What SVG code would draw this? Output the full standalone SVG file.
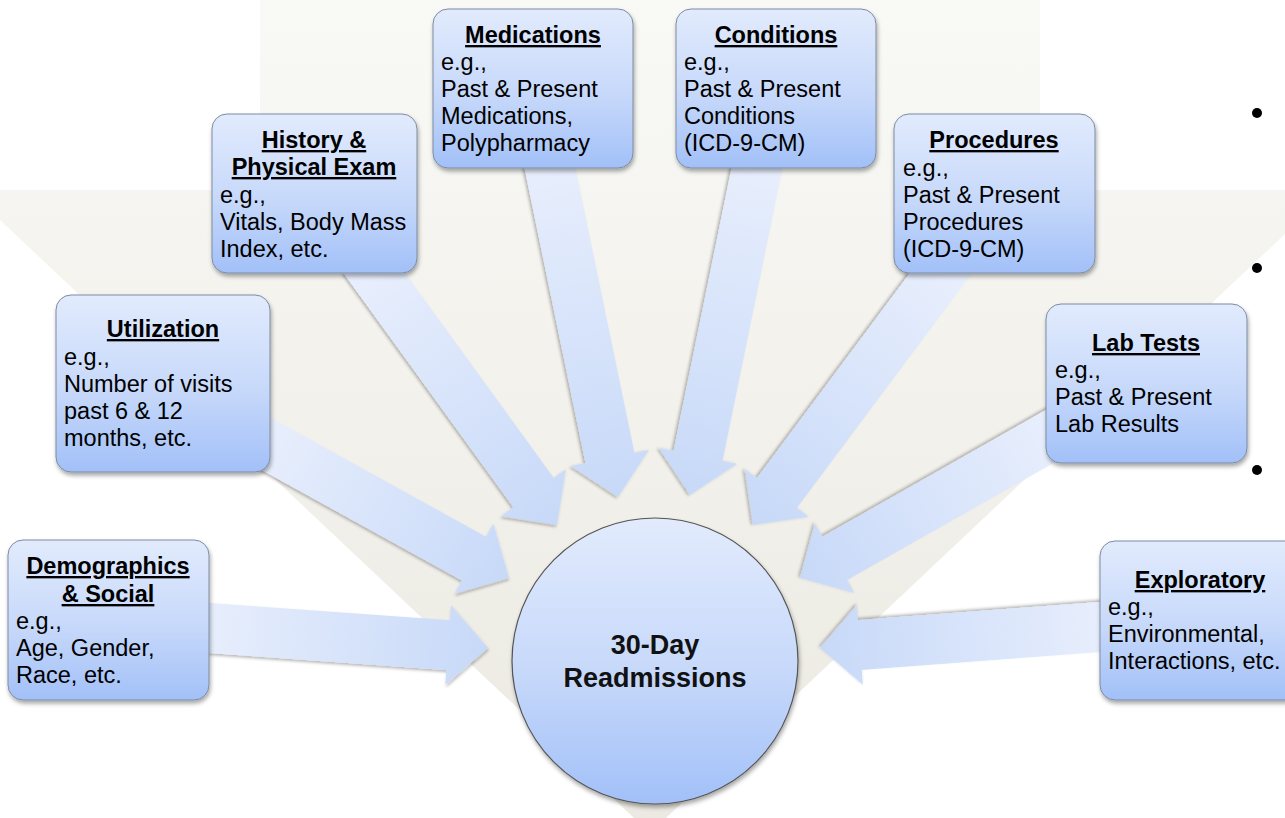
<svg xmlns="http://www.w3.org/2000/svg" width="1285" height="818" viewBox="0 0 1285 818">
<defs>
<linearGradient id="bg" x1="0" y1="0" x2="0" y2="1">
<stop offset="0" stop-color="#f9f9f6"/>
<stop offset="1" stop-color="#ebe9e1"/>
</linearGradient>
<linearGradient id="boxg" x1="0" y1="0" x2="0" y2="1">
<stop offset="0" stop-color="#e2ebfd"/>
<stop offset="0.55" stop-color="#c6d8fa"/>
<stop offset="1" stop-color="#a2c0f8"/>
</linearGradient>
<linearGradient id="arrg" x1="0" y1="0" x2="1" y2="0">
<stop offset="0" stop-color="#e9effd"/>
<stop offset="1" stop-color="#c7d9f8"/>
</linearGradient>
<filter id="sh" x="-10%" y="-10%" width="130%" height="130%">
<feDropShadow dx="1" dy="3" stdDeviation="2" flood-color="#000" flood-opacity="0.35"/>
</filter>
<filter id="ash" x="-10%" y="-20%" width="130%" height="150%">
<feDropShadow dx="1" dy="2" stdDeviation="1.5" flood-color="#000" flood-opacity="0.28"/>
</filter>
</defs>
<style>
.box{fill:url(#boxg);stroke:#7d8ba3;stroke-width:1;filter:url(#sh)}
.t{font-family:"Liberation Sans",Arial,sans-serif;font-size:23.5px;fill:#000}
.h{font-weight:bold;text-decoration:underline;text-anchor:middle}
.c{font-family:"Liberation Sans",Arial,sans-serif;font-size:27px;font-weight:bold;text-anchor:middle;fill:#111}
.a{fill:url(#arrg);filter:url(#ash)}
</style>
<rect width="1285" height="818" fill="#fff"/>
<polygon points="260,0 1040,0 1040,190 1285,190 1285,234 650,833 0,220 0,190 260,190" fill="url(#bg)"/>
<g fill="#000">
<circle cx="1257" cy="113" r="5"/>
<circle cx="1257" cy="268" r="5"/>
<circle cx="1257" cy="470" r="5"/>
</g>
<g id="connectors">
<path class="a" transform="translate(488,648) rotate(4.11)" d="M-299,-25 L-40,-25 L-40,-40 L0,0 L-40,40 L-40,25 L-299,25 Z"/>
<path class="a" transform="translate(509,578) rotate(28.9)" d="M-295,-25 L-40,-25 L-40,-40 L0,0 L-40,40 L-40,25 L-295,25 Z"/>
<path class="a" transform="translate(557,525) rotate(54.05)" d="M-330,-25 L-40,-25 L-40,-40 L0,0 L-40,40 L-40,25 L-330,25 Z"/>
<path class="a" transform="translate(618,497) rotate(78.32)" d="M-356,-25 L-40,-25 L-40,-40 L0,0 L-40,40 L-40,25 L-356,25 Z"/>
<path class="a" transform="translate(690,495) rotate(101.58)" d="M-354,-25 L-40,-25 L-40,-40 L0,0 L-40,40 L-40,25 L-354,25 Z"/>
<path class="a" transform="translate(753,525) rotate(126.72)" d="M-334,-25 L-40,-25 L-40,-40 L0,0 L-40,40 L-40,25 L-334,25 Z"/>
<path class="a" transform="translate(800,578) rotate(150.45)" d="M-304,-25 L-40,-25 L-40,-40 L0,0 L-40,40 L-40,25 L-304,25 Z"/>
<path class="a" transform="translate(820,648) rotate(175.71)" d="M-301,-25 L-40,-25 L-40,-40 L0,0 L-40,40 L-40,25 L-301,25 Z"/>
</g>
<g id="center">
<circle cx="655" cy="661" r="143" fill="url(#boxg)" stroke="#555" stroke-width="1.2" filter="url(#sh)"/>
<text class="c" x="655" y="654">30-Day</text>
<text class="c" x="655" y="687">Readmissions</text>
</g>
<g id="demographics">
<rect class="box" x="8" y="540" width="201" height="160" rx="15"/>
<text class="t h" x="108" y="574">Demographics</text>
<text class="t h" x="108" y="602">&amp; Social</text>
<text class="t" x="16" y="629">e.g.,</text>
<text class="t" x="16" y="656">Age, Gender,</text>
<text class="t" x="16" y="683">Race, etc.</text>
</g>
<g id="utilization">
<rect class="box" x="56" y="295" width="214" height="177" rx="15"/>
<text class="t h" x="163" y="337">Utilization</text>
<text class="t" x="64" y="365">e.g.,</text>
<text class="t" x="64" y="392">Number of visits</text>
<text class="t" x="64" y="419">past 6 &amp; 12</text>
<text class="t" x="64" y="446">months, etc.</text>
</g>
<g id="history">
<rect class="box" x="212" y="114" width="205" height="159" rx="15"/>
<text class="t h" x="314" y="148">History &amp;</text>
<text class="t h" x="314" y="175">Physical Exam</text>
<text class="t" x="220" y="203">e.g.,</text>
<text class="t" x="220" y="230">Vitals, Body Mass</text>
<text class="t" x="220" y="257">Index, etc.</text>
</g>
<g id="medications">
<rect class="box" x="433" y="9" width="200" height="159" rx="15"/>
<text class="t h" x="533" y="43">Medications</text>
<text class="t" x="441" y="70">e.g.,</text>
<text class="t" x="441" y="97">Past &amp; Present</text>
<text class="t" x="441" y="124">Medications,</text>
<text class="t" x="441" y="151">Polypharmacy</text>
</g>
<g id="conditions">
<rect class="box" x="676" y="9" width="200" height="159" rx="15"/>
<text class="t h" x="776" y="43">Conditions</text>
<text class="t" x="684" y="70">e.g.,</text>
<text class="t" x="684" y="97">Past &amp; Present</text>
<text class="t" x="684" y="124">Conditions</text>
<text class="t" x="684" y="151">(ICD-9-CM)</text>
</g>
<g id="procedures">
<rect class="box" x="894" y="114" width="201" height="159" rx="15"/>
<text class="t h" x="994" y="148">Procedures</text>
<text class="t" x="903" y="176">e.g.,</text>
<text class="t" x="903" y="203">Past &amp; Present</text>
<text class="t" x="903" y="230">Procedures</text>
<text class="t" x="903" y="257">(ICD-9-CM)</text>
</g>
<g id="labtests">
<rect class="box" x="1046" y="304" width="201" height="159" rx="15"/>
<text class="t h" x="1146" y="351">Lab Tests</text>
<text class="t" x="1055" y="378">e.g.,</text>
<text class="t" x="1055" y="405">Past &amp; Present</text>
<text class="t" x="1055" y="432">Lab Results</text>
</g>
<g id="exploratory">
<rect class="box" x="1100" y="541" width="210" height="159" rx="15"/>
<text class="t h" x="1200" y="588">Exploratory</text>
<text class="t" x="1108" y="615">e.g.,</text>
<text class="t" x="1108" y="642">Environmental,</text>
<text class="t" x="1108" y="669">Interactions, etc.</text>
</g>
</svg>
